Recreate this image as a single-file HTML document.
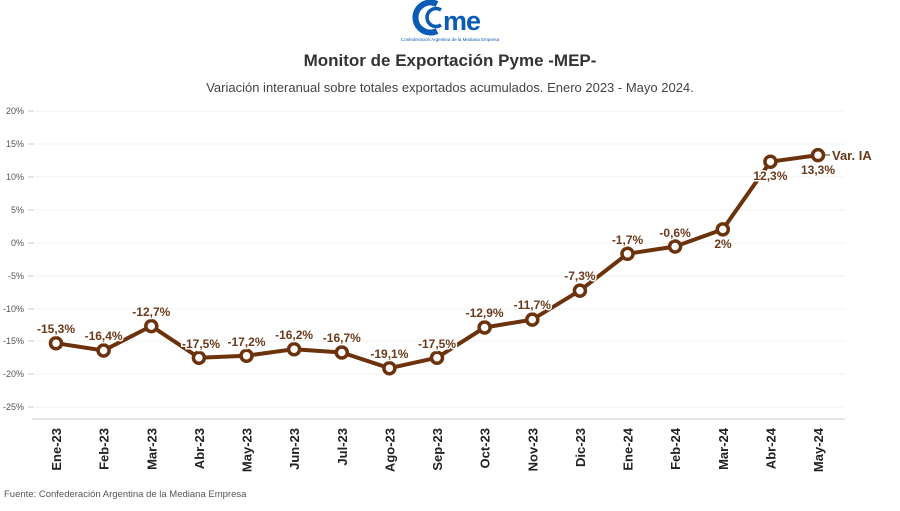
<!DOCTYPE html>
<html><head><meta charset="utf-8"><style>
body{margin:0;background:#fff;}
svg{display:block;font-family:"Liberation Sans",sans-serif;}
.yl{font-size:9px;fill:#555;text-anchor:end}
.xl{font-size:13px;font-weight:bold;fill:#222;text-anchor:end}
.dl{font-size:12px;font-weight:bold;fill:#6b3a1a;text-anchor:middle;paint-order:stroke;stroke:#fff;stroke-width:3px}
</style></head><body>
<svg width="900" height="511" viewBox="0 0 900 511">
<!-- logo -->
<g>
<path d="M437 4 A15 15 0 1 0 437 31" fill="none" stroke="#0a5bb5" stroke-width="6"/>
<path d="M441 10 A9 9 0 1 0 441 25" fill="none" stroke="#0a5bb5" stroke-width="3.5"/>
<text x="443" y="30" font-size="27" font-weight="bold" fill="#0a5bb5" letter-spacing="-1">me</text>
<text x="450" y="41" font-size="4.5" fill="#0a5bb5" text-anchor="middle">Confederación Argentina de la Mediana Empresa</text>
</g>
<text x="450" y="66" font-size="17" font-weight="bold" fill="#333" text-anchor="middle">Monitor de Exportación Pyme -MEP-</text>
<text x="450" y="92" font-size="13" fill="#444" text-anchor="middle">Variación interanual sobre totales exportados acumulados. Enero 2023 - Mayo 2024.</text>
<!-- grid -->
<g stroke="#f1f1f1" stroke-width="1">
<line x1="36" x2="845" y1="111" y2="111"/><line x1="36" x2="845" y1="144" y2="144"/>
<line x1="36" x2="845" y1="177" y2="177"/><line x1="36" x2="845" y1="210" y2="210"/>
<line x1="36" x2="845" y1="243" y2="243"/><line x1="36" x2="845" y1="276" y2="276"/>
<line x1="36" x2="845" y1="309" y2="309"/><line x1="36" x2="845" y1="341" y2="341"/>
<line x1="36" x2="845" y1="374" y2="374"/><line x1="36" x2="845" y1="407" y2="407"/>
</g>
<g stroke="#ccc"><line x1="28" x2="34" y1="111" y2="111"/><line x1="28" x2="34" y1="144" y2="144"/><line x1="28" x2="34" y1="177" y2="177"/><line x1="28" x2="34" y1="210" y2="210"/><line x1="28" x2="34" y1="243" y2="243"/><line x1="28" x2="34" y1="276" y2="276"/><line x1="28" x2="34" y1="309" y2="309"/><line x1="28" x2="34" y1="341" y2="341"/><line x1="28" x2="34" y1="374" y2="374"/><line x1="28" x2="34" y1="407" y2="407"/></g>
<line x1="32" x2="845" y1="419" y2="419" stroke="#e6e6e6" stroke-width="2"/>
<g class="yl">
<text x="24" y="114">20%</text><text x="24" y="147">15%</text><text x="24" y="180">10%</text><text x="24" y="213">5%</text><text x="24" y="246">0%</text><text x="24" y="279">-5%</text><text x="24" y="312">-10%</text><text x="24" y="344">-15%</text><text x="24" y="377">-20%</text><text x="24" y="410">-25%</text>
</g>
<!-- x labels -->
<g class="xl">
<text transform="translate(61,428) rotate(-90)">Ene-23</text>
<text transform="translate(108.5,428) rotate(-90)">Feb-23</text>
<text transform="translate(156.3,428) rotate(-90)">Mar-23</text>
<text transform="translate(203.9,428) rotate(-90)">Abr-23</text>
<text transform="translate(251.5,428) rotate(-90)">May-23</text>
<text transform="translate(299.1,428) rotate(-90)">Jun-23</text>
<text transform="translate(346.8,428) rotate(-90)">Jul-23</text>
<text transform="translate(394.4,428) rotate(-90)">Ago-23</text>
<text transform="translate(442,428) rotate(-90)">Sep-23</text>
<text transform="translate(489.6,428) rotate(-90)">Oct-23</text>
<text transform="translate(537.3,428) rotate(-90)">Nov-23</text>
<text transform="translate(584.9,428) rotate(-90)">Dic-23</text>
<text transform="translate(632.5,428) rotate(-90)">Ene-24</text>
<text transform="translate(680.1,428) rotate(-90)">Feb-24</text>
<text transform="translate(727.8,428) rotate(-90)">Mar-24</text>
<text transform="translate(775.4,428) rotate(-90)">Abr-24</text>
<text transform="translate(823,428) rotate(-90)">May-24</text>
</g>
<polyline fill="none" stroke="#6b320c" stroke-width="4" stroke-linejoin="round" points="56,343.2 103.6,350.5 151.3,326.1 198.9,357.7 246.5,355.7 294.1,349.2 341.8,352.5 389.4,368.2 437,357.7 484.6,327.5 532.3,319.6 579.9,290.6 627.5,253.8 675.1,246.5 722.8,229.4 770.4,161.7 818,155.1"/>
<g fill="#fff" stroke="#6b320c" stroke-width="3.5">
<circle cx="56" cy="343.2" r="5.5"/><circle cx="103.6" cy="350.5" r="5.5"/><circle cx="151.3" cy="326.1" r="5.5"/><circle cx="198.9" cy="357.7" r="5.5"/><circle cx="246.5" cy="355.7" r="5.5"/><circle cx="294.1" cy="349.2" r="5.5"/><circle cx="341.8" cy="352.5" r="5.5"/><circle cx="389.4" cy="368.2" r="5.5"/><circle cx="437" cy="357.7" r="5.5"/><circle cx="484.6" cy="327.5" r="5.5"/><circle cx="532.3" cy="319.6" r="5.5"/><circle cx="579.9" cy="290.6" r="5.5"/><circle cx="627.5" cy="253.8" r="5.5"/><circle cx="675.1" cy="246.5" r="5.5"/><circle cx="722.8" cy="229.4" r="5.5"/><circle cx="770.4" cy="161.7" r="5.5"/><circle cx="818" cy="155.1" r="5.5"/>
</g>
<g class="dl">
<text x="56" y="333">-15,3%</text>
<text x="103.6" y="340">-16,4%</text>
<text x="151.3" y="316">-12,7%</text>
<text x="201" y="348">-17,5%</text>
<text x="246.5" y="346">-17,2%</text>
<text x="294.1" y="339">-16,2%</text>
<text x="341.8" y="342">-16,7%</text>
<text x="389.4" y="358">-19,1%</text>
<text x="437" y="348">-17,5%</text>
<text x="484.6" y="317">-12,9%</text>
<text x="532.3" y="309">-11,7%</text>
<text x="579.9" y="280">-7,3%</text>
<text x="627.5" y="244">-1,7%</text>
<text x="675.1" y="237">-0,6%</text>
<text x="723" y="248">2%</text>
<text x="770.4" y="180">12,3%</text>
<text x="818" y="174">13,3%</text>
</g>
<line x1="824" x2="830" y1="155" y2="155" stroke="#6b320c"/>
<text x="832" y="160" font-size="13" font-weight="bold" fill="#6b3a1a">Var. IA</text>
<text x="4" y="497" font-size="9.5" fill="#555">Fuente: Confederación Argentina de la Mediana Empresa</text>
</svg>
</body></html>
